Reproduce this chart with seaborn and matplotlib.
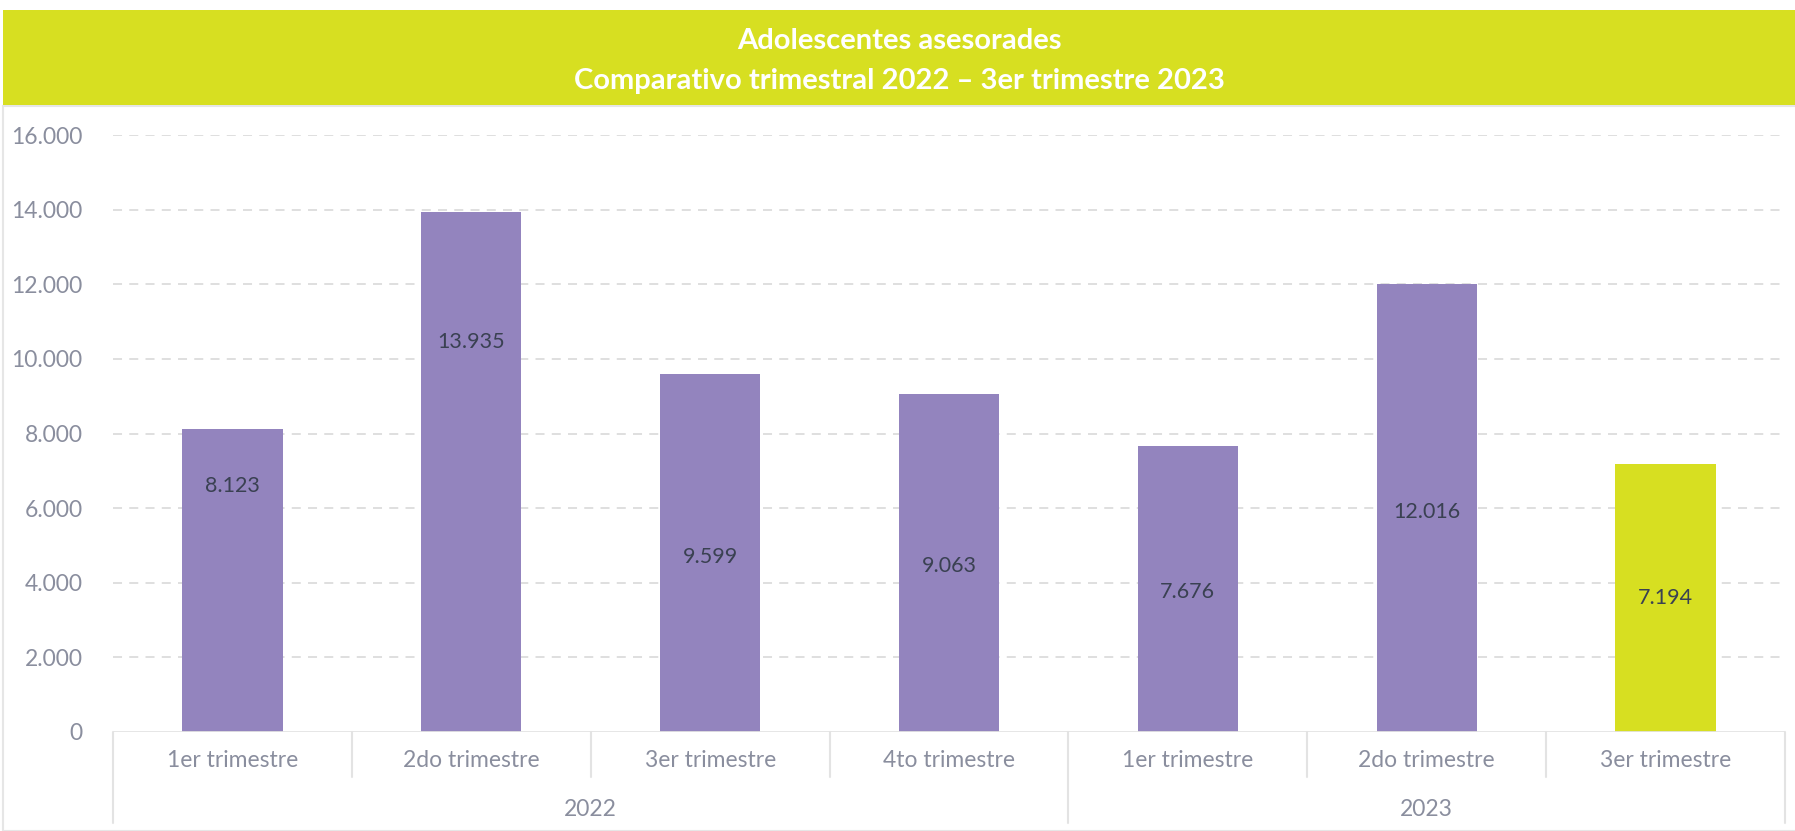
import pandas as pd
import matplotlib.pyplot as plt
import matplotlib.transforms as mtransforms
from matplotlib.patches import Rectangle
import seaborn as sns

# datos del gráfico
years = ['2022', '2022', '2022', '2022', '2023', '2023', '2023']
quarters = ['1er trimestre', '2do trimestre', '3er trimestre', '4to trimestre',
            '1er trimestre', '2do trimestre', '3er trimestre']
values = [8123, 13935, 9599, 9063, 7676, 12016, 7194]
yticks = [0, 2000, 4000, 6000, 8000, 10000, 12000, 14000, 16000]

# altura relativa de la etiqueta dentro de cada barra (como en el original)
label_frac = [0.81, 0.75, 0.49, 0.49, 0.49, 0.49, 0.50]

purple = '#9384BE'
lime = '#D7DF21'
grid_c = '#DCDCDC'
tick_c = '#8A8E9E'
text_c = '#3A4152'

df = pd.DataFrame({'year': years, 'quarter': quarters, 'value': values})
df['key'] = df['year'] + ' ' + df['quarter']
df['grupo'] = ['base'] * 6 + ['actual']

sns.set_theme(style='white')
plt.rcParams['font.family'] = ['Lato', 'DejaVu Sans']

W, H = 1795, 831
fig = plt.figure(figsize=(W / 100, H / 100), dpi=100)
x0, x1, y0, y1 = 113, 1785, 732, 135
ax = fig.add_axes([x0 / W, 1 - y0 / H, (x1 - x0) / W, (y0 - y1) / H])

sns.barplot(data=df, x='key', y='value', hue='grupo',
            palette={'base': purple, 'actual': lime}, width=0.42,
            legend=False, ax=ax, saturation=1, edgecolor='none')

ax.set_xlim(-0.5, len(values) - 0.5)
ax.set_ylim(0, 16000)
ax.set_yticks(yticks)
ax.set_yticklabels([f'{v:,}'.replace(',', '.') for v in yticks],
                   color=tick_c, fontsize=16.5)
for v in yticks[1:]:
    ax.axhline(v, color=grid_c, lw=1.3, ls=(0, (5, 4)), zorder=0)
ax.axhline(0, color='#E3E3E3', lw=2, zorder=3)
ax.tick_params(axis='y', length=0, pad=22)
ax.tick_params(axis='x', length=0, pad=13)
ax.set_xticks(range(len(values)))
ax.set_xticklabels(quarters, color=tick_c, fontsize=16.5)
ax.set_xlabel('')
ax.set_ylabel('')
for s in ax.spines.values():
    s.set_visible(False)

# etiquetas de valores
for i, v in enumerate(values):
    ax.text(i, v * label_frac[i], f'{v:,}'.replace(',', '.'),
            ha='center', va='center', fontsize=15.5, color=text_c)

# líneas separadoras del eje categórico
trans = mtransforms.blended_transform_factory(ax.transData, ax.transAxes)
bottom_long = (y0 - 823) / (y0 - y1)
bottom_short = (y0 - 777) / (y0 - y1)
for i in range(len(values) + 1):
    edge = i - 0.5
    low = bottom_long if i in (0, 4, 7) else bottom_short
    ax.plot([edge, edge], [0, low], color='#E3E3E3', lw=1.5,
            transform=trans, clip_on=False)

# etiquetas de año
year_y = (y0 - 809) / (y0 - y1)
for yr in ['2022', '2023']:
    pos = [i for i, y in enumerate(years) if y == yr]
    ax.text(sum(pos) / len(pos), year_y, yr, transform=trans,
            ha='center', va='center', fontsize=16.5, color=tick_c)

# marco y banda del título
fig.patches.append(Rectangle((3 / W, 0), 1, 1 - 106 / H, transform=fig.transFigure,
                             facecolor='none', edgecolor='#E6E6E6', lw=1.5))
fig.patches.append(Rectangle((3 / W, 1 - 105 / H), 1, 95 / H, transform=fig.transFigure,
                             facecolor=lime, edgecolor='none'))
fig.text(0.5 + 2 / W, 1 - 41 / H, 'Adolescentes asesorades', ha='center', va='center',
         color='white', fontsize=21, fontweight='bold')
fig.text(0.5 + 2 / W, 1 - 81 / H, 'Comparativo trimestral 2022 – 3er trimestre 2023',
         ha='center', va='center', color='white', fontsize=21, fontweight='bold')

fig.savefig('out.png', dpi=100)
